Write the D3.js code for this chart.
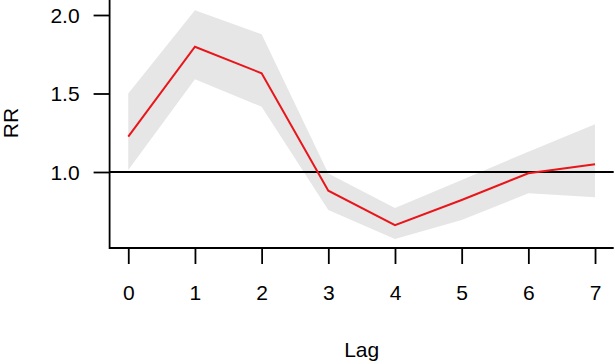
<!DOCTYPE html>
<html><head><meta charset="utf-8">
<script src="https://cdn.jsdelivr.net/npm/d3@7"></script>
<style>body{margin:0;background:#fff}svg{display:block}text{font-family:"Liberation Sans",Arial,sans-serif;fill:#000}</style>
</head><body>
<svg id="c" width="615" height="364"></svg>
<script>
const lags = [0, 1, 2, 3, 4, 5, 6, 7];
const rr = [1.225, 1.798, 1.629, 0.881, 0.662, 0.822, 0.992, 1.049];
const rrLow = [1.013, 1.59, 1.416, 0.758, 0.573, 0.694, 0.864, 0.839];
const rrHigh = [1.50, 2.03, 1.877, 0.99, 0.77, 0.949, 1.129, 1.304];
const yTicks = [1.0, 1.5, 2.0];
const yTickLabels = ["1.0", "1.5", "2.0"];
const xTickLabels = ["0", "1", "2", "3", "4", "5", "6", "7"];

const svg = d3.select("#c");
const L = 109.6, R = 613.7, T = -1, B = 248;
const x = d3.scaleLinear().domain([-0.28, 7.28]).range([L, R]);
const y = d3.scaleLinear().domain([1, 2]).range([172, 15]);

const data = lags.map((l, i) => ({l, v: rr[i], lo: rrLow[i], hi: rrHigh[i]}));

svg.append("path").datum(data)
  .attr("d", d3.area().x(d => x(d.l)).y0(d => y(d.lo)).y1(d => y(d.hi)))
  .attr("fill", "#e6e6e6");

svg.append("line").attr("x1", L).attr("x2", R).attr("y1", y(1)).attr("y2", y(1))
  .attr("stroke", "#000").attr("stroke-width", 1.8);

svg.append("path").datum(data)
  .attr("d", d3.line().x(d => x(d.l)).y(d => y(d.v)))
  .attr("fill", "none").attr("stroke", "#e8161b").attr("stroke-width", 2);

// L-shaped box
svg.append("path").attr("d", `M${L},${T}V${B}H${R}`)
  .attr("fill", "none").attr("stroke", "#000").attr("stroke-width", 1.8);

// y axis
const ya = svg.append("g").attr("transform", `translate(${L},0)`)
  .call(d3.axisLeft(y).tickValues(yTicks).tickFormat((d, i) => yTickLabels[i]).tickSize(16).tickPadding(14));
ya.select(".domain").remove();
ya.selectAll(".tick line").attr("stroke", "#000").attr("stroke-width", 1.8);
ya.selectAll(".tick text").attr("font-size", 21).attr("font-family", "Liberation Sans, Arial, sans-serif").attr("dy", "0.35em");

// x axis
const xa = svg.append("g").attr("transform", `translate(0,${B + 1})`)
  .call(d3.axisBottom(x).tickValues(lags).tickFormat((d, i) => xTickLabels[i]).tickSize(15).tickPadding(21));
xa.select(".domain").remove();
xa.selectAll(".tick line").attr("stroke", "#000").attr("stroke-width", 1.8);
xa.selectAll(".tick text").attr("font-size", 21).attr("font-family", "Liberation Sans, Arial, sans-serif");

svg.append("text").attr("x", (L + R) / 2).attr("y", 357).attr("text-anchor", "middle")
  .attr("font-size", 21).text("Lag");
svg.append("text").attr("transform", "translate(18,123) rotate(-90)").attr("text-anchor", "middle")
  .attr("font-size", 21).text("RR");
</script>
</body></html>
